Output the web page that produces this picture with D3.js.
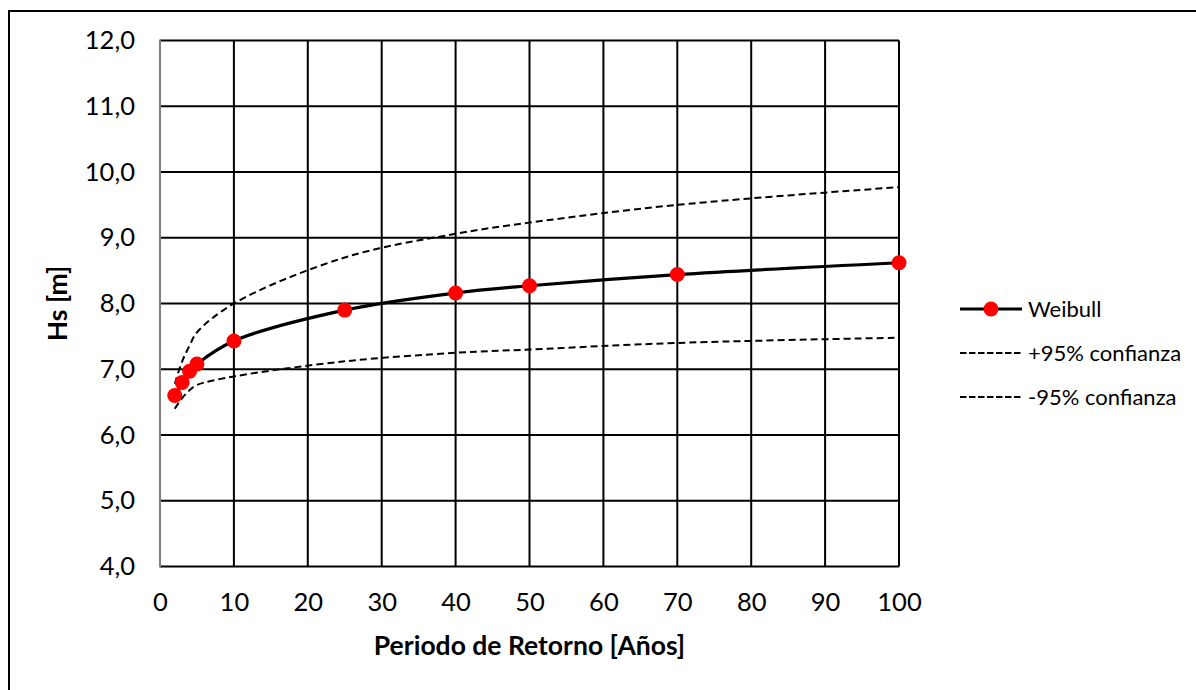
<!DOCTYPE html>
<html>
<head>
<meta charset="utf-8">
<script src="https://cdn.jsdelivr.net/npm/d3@7"></script>
<style>
  html, body { margin: 0; padding: 0; background: #fff; }
  svg { display: block; font-family: Lato, "Open Sans", sans-serif; }
</style>
</head>
<body>
<svg id="chart" width="1196" height="690"></svg>
<script>
// Return periods (years) and significant wave height estimates (m)
const periods = [2, 3, 4, 5, 10, 25, 40, 50, 70, 100];
const weibull = [6.60, 6.80, 6.97, 7.08, 7.43, 7.90, 8.16, 8.27, 8.44, 8.62];
const upper95 = [6.78, 7.12, 7.36, 7.56, 8.00, 8.70, 9.06, 9.23, 9.50, 9.77];
const lower95 = [6.40, 6.56, 6.68, 6.76, 6.89, 7.12, 7.25, 7.30, 7.40, 7.48];

const xTicks = [0, 10, 20, 30, 40, 50, 60, 70, 80, 90, 100];
const yTicks = [4, 5, 6, 7, 8, 9, 10, 11, 12];

const legendLabels = ["Weibull", "+95% confianza", "-95% confianza"];
const xTitle = "Periodo de Retorno [Años]";
const yTitle = "Hs [m]";

const svg = d3.select("#chart");
const plot = { left: 160, right: 899, top: 40.5, bottom: 566.5 };

const x = d3.scaleLinear().domain([0, 100]).range([plot.left, plot.right]);
const y = d3.scaleLinear().domain([4, 12]).range([plot.bottom, plot.top]);

const locale = d3.formatLocale({ decimal: ",", thousands: ".", grouping: [3], currency: ["", "€"] });
const fmtY = locale.format(".1f");

// Outer frame
svg.append("rect")
  .attr("x", 9).attr("y", 11)
  .attr("width", 1200).attr("height", 700)
  .attr("fill", "none").attr("stroke", "#000").attr("stroke-width", 2);

// Gridlines
const grid = svg.append("g");
grid.selectAll("line.h").data(yTicks).join("line")
  .attr("class", "h")
  .attr("x1", plot.left).attr("x2", plot.right)
  .attr("y1", d => y(d)).attr("y2", d => y(d))
  .attr("stroke", "#000").attr("stroke-width", 2);
grid.selectAll("line.v").data(xTicks.filter(d => d > 0)).join("line")
  .attr("class", "v")
  .attr("x1", d => x(d)).attr("x2", d => x(d))
  .attr("y1", plot.top).attr("y2", plot.bottom)
  .attr("stroke", "#000").attr("stroke-width", 2);

// Axes
const xAxis = d3.axisBottom(x).tickValues(xTicks).tickSize(0).tickPadding(26).tickFormat(d3.format("d"));
const yAxis = d3.axisLeft(y).tickValues(yTicks).tickSize(0).tickPadding(25).tickFormat(fmtY);

const gx = svg.append("g").attr("transform", `translate(0,${plot.bottom})`).call(xAxis);
const gy = svg.append("g").attr("transform", `translate(${plot.left},0)`).call(yAxis);
[gx, gy].forEach(g => {
  g.select(".domain").remove();
  g.selectAll("text").attr("font-family", "Lato, sans-serif").attr("font-size", 25.5).attr("fill", "#000");
});
// vertical axis line in grey
svg.append("line")
  .attr("x1", plot.left).attr("x2", plot.left)
  .attr("y1", plot.top - 1).attr("y2", plot.bottom + 1)
  .attr("stroke", "#7f7f7f").attr("stroke-width", 2);

// Series
const pts = arr => periods.map((p, i) => [p, arr[i]]);
const line = d3.line().x(d => x(d[0])).y(d => y(d[1])).curve(d3.curveCatmullRom.alpha(0.5));

svg.append("path").datum(pts(upper95))
  .attr("d", line).attr("fill", "none").attr("stroke", "#000")
  .attr("stroke-width", 2).attr("stroke-dasharray", "7,4");
svg.append("path").datum(pts(lower95))
  .attr("d", line).attr("fill", "none").attr("stroke", "#000")
  .attr("stroke-width", 2).attr("stroke-dasharray", "7,4");
svg.append("path").datum(pts(weibull))
  .attr("d", line).attr("fill", "none").attr("stroke", "#000")
  .attr("stroke-width", 3.2);
svg.append("g").selectAll("circle").data(pts(weibull)).join("circle")
  .attr("cx", d => x(d[0])).attr("cy", d => y(d[1])).attr("r", 7.5)
  .attr("fill", "#ff0000");

// Axis titles
svg.append("text")
  .attr("x", (plot.left + plot.right) / 2).attr("y", 655)
  .attr("text-anchor", "middle").attr("font-weight", "bold")
  .attr("font-size", 26.5).attr("fill", "#000")
  .text(xTitle);
svg.append("text")
  .attr("transform", `translate(67,${(plot.top + plot.bottom) / 2}) rotate(-90)`)
  .attr("text-anchor", "middle").attr("font-weight", "bold")
  .attr("font-size", 26.5).attr("fill", "#000")
  .text(yTitle);

// Legend
const legend = svg.append("g");
const rowY = [309, 353, 397];
legendLabels.forEach((label, i) => {
  const ly = rowY[i];
  const ln = legend.append("line")
    .attr("x1", 960).attr("x2", 1022).attr("y1", ly).attr("y2", ly)
    .attr("stroke", "#000");
  if (i === 0) {
    ln.attr("stroke-width", 3.2);
    legend.append("circle").attr("cx", 991).attr("cy", ly).attr("r", 7.5).attr("fill", "#ff0000");
  } else {
    ln.attr("stroke-width", 2).attr("stroke-dasharray", "6.5,2.5");
  }
  legend.append("text")
    .attr("x", 1028).attr("y", ly + 7.5)
    .attr("font-size", 22).attr("fill", "#000")
    .text(label);
});
</script>
</body>
</html>
